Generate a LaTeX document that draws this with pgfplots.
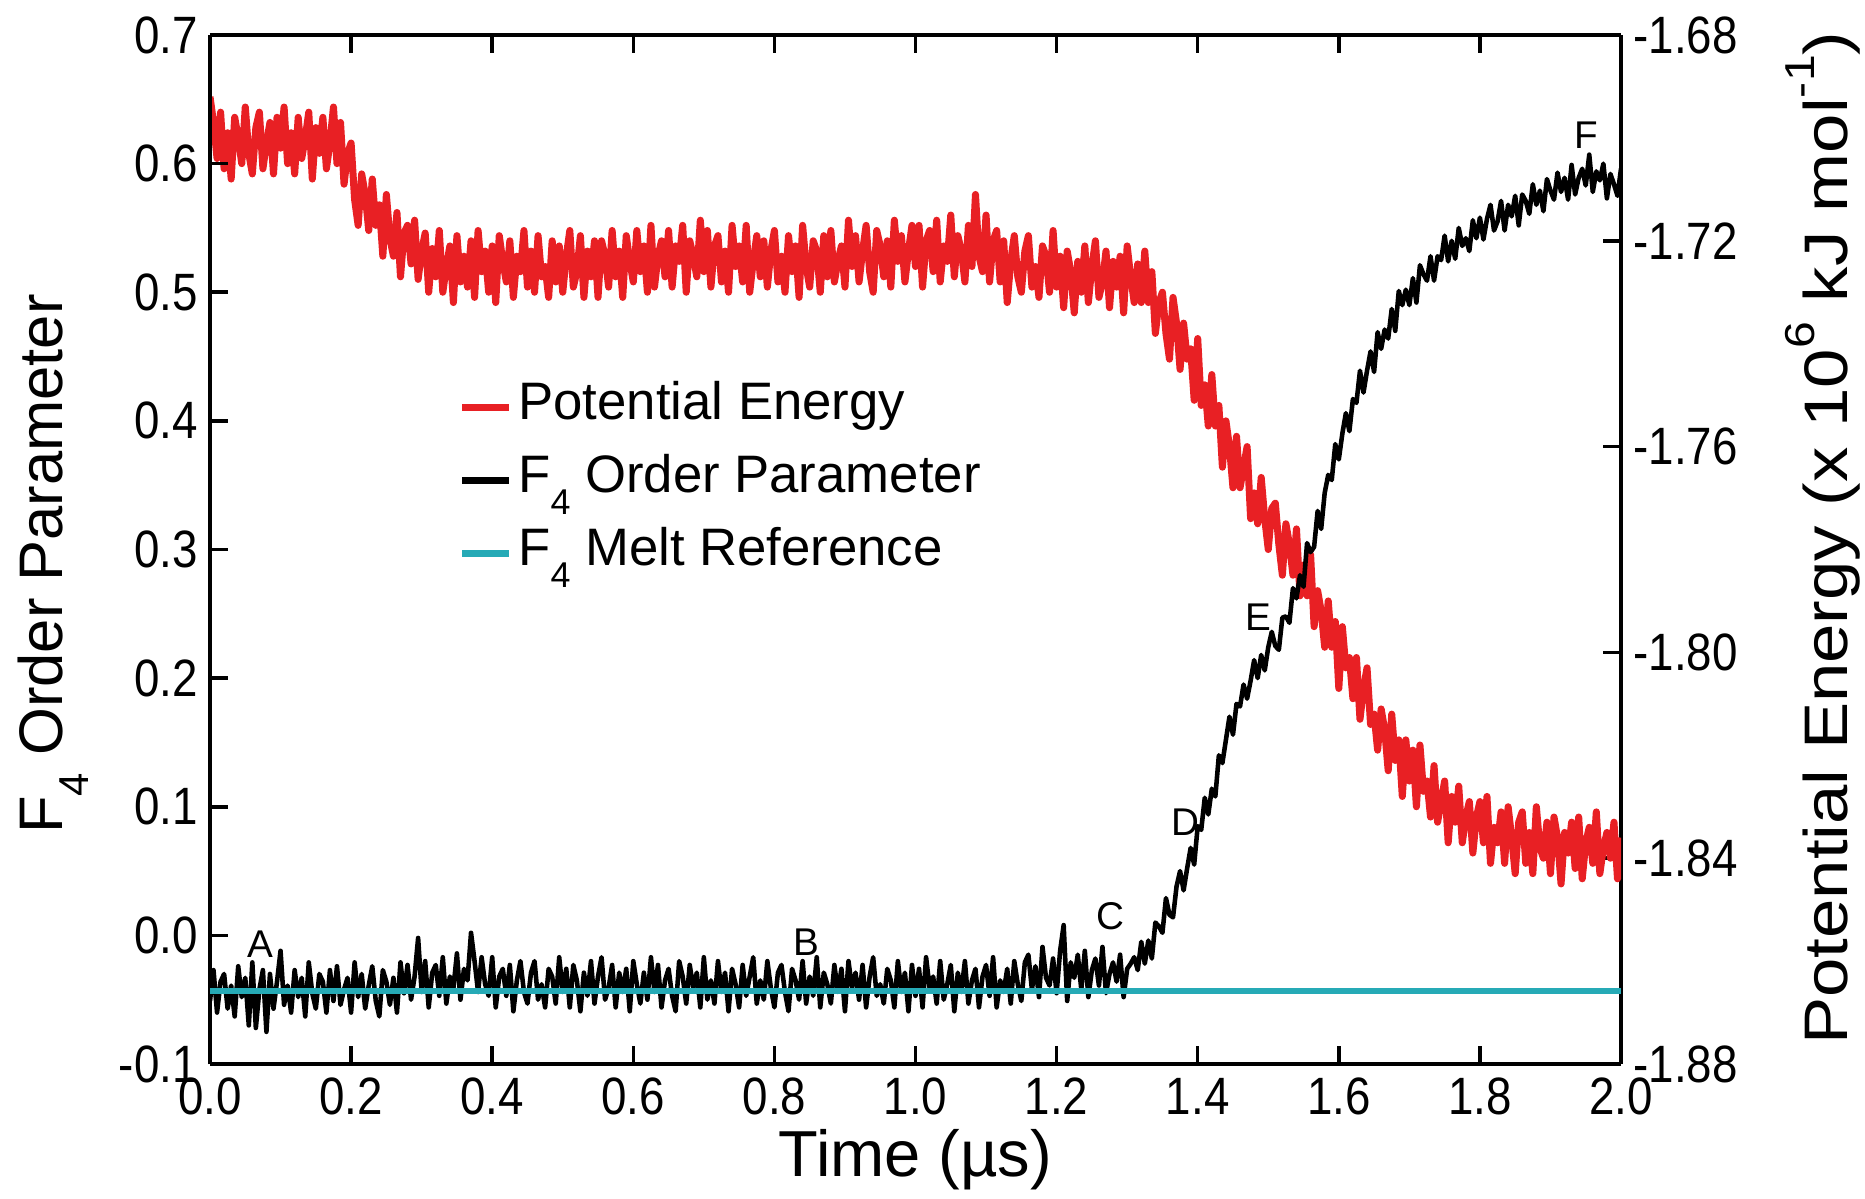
\documentclass[border=0pt]{standalone}
\usepackage{graphicx}
\usepackage{fontspec}
\setmainfont{Liberation Sans}
\usepackage{pgfplots}
\pgfplotsset{compat=1.18}

\definecolor{pered}{RGB}{232,32,36}
\definecolor{meltcyan}{RGB}{38,170,182}
\newcommand{\ticksize}{\fontsize{13}{13}\selectfont}
\newcommand{\labsize}{\fontsize{17.5}{18}\selectfont}
\newcommand{\fsub}[1]{\raisebox{-0.42em}{\scalebox{0.68}{#1}}}
\newcommand{\fsup}[1]{\raisebox{0.55em}{\scalebox{0.68}{#1}}}

\begin{document}
\begin{tikzpicture}
\path[use as bounding box] (-21mm,-13.4mm) rectangle (165.5mm,106.4mm);

% potential energy, right-hand scale
\begin{axis}[
  at={(0,0)}, anchor=south west, scale only axis,
  width=141.1mm, height=102.9mm,
  xmin=0, xmax=2, ymin=-1.88, ymax=-1.68,
  axis x line=none, axis y line*=right,
  ytick={-1.88,-1.84,-1.80,-1.76,-1.72,-1.68},
  yticklabels={-1.88,-1.84,-1.80,-1.76,-1.72,-1.68},
  tick align=inside, major tick length=1.8mm,
  axis line style={line width=1pt},
  tick style={line width=1pt, black},
  yticklabel style={font=\ticksize, yscale=1.15},
  every axis y label/.style={at={(axis description cs:1.143,0.511)}, rotate=90, anchor=center, font=\labsize},
  ylabel={\scalebox{1.15}[1]{Potential Energy (x 10\fsup{6} kJ mol\fsup{-1})}},
]
\addplot[pered, line width=2pt, line join=round] coordinates {
(0.000,-1.692)(0.005,-1.697)(0.010,-1.704)(0.015,-1.695)(0.020,-1.706)(0.025,-1.699)(0.030,-1.708)(0.035,-1.696)(0.040,-1.700)(0.045,-1.705)
(0.050,-1.694)(0.055,-1.703)(0.060,-1.707)(0.065,-1.698)(0.070,-1.695)(0.075,-1.706)(0.080,-1.701)(0.085,-1.697)(0.090,-1.707)(0.095,-1.696)
(0.100,-1.702)(0.105,-1.694)(0.110,-1.705)(0.115,-1.699)(0.120,-1.707)(0.125,-1.696)(0.130,-1.704)(0.135,-1.700)(0.140,-1.695)(0.145,-1.708)
(0.150,-1.698)(0.155,-1.703)(0.160,-1.696)(0.165,-1.706)(0.170,-1.701)(0.175,-1.694)(0.180,-1.705)(0.185,-1.697)(0.190,-1.709)(0.195,-1.703)
(0.200,-1.701)(0.205,-1.712)(0.210,-1.717)(0.215,-1.707)(0.220,-1.711)(0.225,-1.718)(0.230,-1.708)(0.235,-1.717)(0.240,-1.713)(0.245,-1.723)
(0.250,-1.711)(0.255,-1.7195)(0.260,-1.723)(0.265,-1.7145)(0.270,-1.727)(0.275,-1.7185)(0.280,-1.717)(0.285,-1.7245)(0.290,-1.716)(0.295,-1.7275)
(0.300,-1.722)(0.305,-1.7185)(0.310,-1.730)(0.315,-1.7215)(0.320,-1.727)(0.325,-1.718)(0.330,-1.730)(0.335,-1.725)(0.340,-1.721)(0.345,-1.732)
(0.350,-1.719)(0.355,-1.728)(0.360,-1.723)(0.365,-1.729)(0.370,-1.720)(0.375,-1.731)(0.380,-1.718)(0.385,-1.726)(0.390,-1.722)(0.395,-1.730)
(0.400,-1.721)(0.405,-1.732)(0.410,-1.719)(0.415,-1.724)(0.420,-1.728)(0.425,-1.720)(0.430,-1.731)(0.435,-1.723)(0.440,-1.726)(0.445,-1.718)
(0.450,-1.729)(0.455,-1.722)(0.460,-1.730)(0.465,-1.719)(0.470,-1.727)(0.475,-1.725)(0.480,-1.731)(0.485,-1.720)(0.490,-1.728)(0.495,-1.721)
(0.500,-1.730)(0.505,-1.723)(0.510,-1.718)(0.515,-1.729)(0.520,-1.726)(0.525,-1.719)(0.530,-1.731)(0.535,-1.722)(0.540,-1.727)(0.545,-1.720)
(0.550,-1.731)(0.555,-1.720)(0.560,-1.723)(0.565,-1.729)(0.570,-1.718)(0.575,-1.727)(0.580,-1.722)(0.585,-1.731)(0.590,-1.719)(0.595,-1.724)
(0.600,-1.728)(0.605,-1.718)(0.610,-1.726)(0.615,-1.721)(0.620,-1.730)(0.625,-1.717)(0.630,-1.729)(0.635,-1.723)(0.640,-1.720)(0.645,-1.727)
(0.650,-1.718)(0.655,-1.729)(0.660,-1.721)(0.665,-1.724)(0.670,-1.717)(0.675,-1.730)(0.680,-1.720)(0.685,-1.723)(0.690,-1.727)(0.695,-1.716)
(0.700,-1.726)(0.705,-1.718)(0.710,-1.729)(0.715,-1.721)(0.720,-1.719)(0.725,-1.728)(0.730,-1.722)(0.735,-1.730)(0.740,-1.717)(0.745,-1.725)
(0.750,-1.721)(0.755,-1.728)(0.760,-1.717)(0.765,-1.730)(0.770,-1.724)(0.775,-1.719)(0.780,-1.727)(0.785,-1.720)(0.790,-1.729)(0.795,-1.722)
(0.800,-1.718)(0.805,-1.728)(0.810,-1.723)(0.815,-1.730)(0.820,-1.719)(0.825,-1.726)(0.830,-1.721)(0.835,-1.731)(0.840,-1.717)(0.845,-1.725)
(0.850,-1.729)(0.855,-1.720)(0.860,-1.722)(0.865,-1.730)(0.870,-1.719)(0.875,-1.727)(0.880,-1.718)(0.885,-1.728)(0.890,-1.724)(0.895,-1.721)
(0.900,-1.729)(0.905,-1.716)(0.910,-1.725)(0.915,-1.719)(0.920,-1.728)(0.925,-1.722)(0.930,-1.717)(0.935,-1.726)(0.940,-1.730)(0.945,-1.718)
(0.950,-1.721)(0.955,-1.727)(0.960,-1.720)(0.965,-1.729)(0.970,-1.716)(0.975,-1.724)(0.980,-1.719)(0.985,-1.728)(0.990,-1.722)(0.995,-1.717)
(1.000,-1.725)(1.005,-1.717)(1.010,-1.729)(1.015,-1.720)(1.020,-1.718)(1.025,-1.726)(1.030,-1.716)(1.035,-1.728)(1.040,-1.721)(1.045,-1.724)
(1.050,-1.715)(1.055,-1.727)(1.060,-1.719)(1.065,-1.722)(1.070,-1.728)(1.075,-1.717)(1.080,-1.725)(1.085,-1.711)(1.090,-1.723)(1.095,-1.726)
(1.100,-1.715)(1.105,-1.728)(1.110,-1.720)(1.115,-1.718)(1.120,-1.728)(1.125,-1.720)(1.130,-1.732)(1.135,-1.724)(1.140,-1.719)(1.145,-1.727)
(1.150,-1.730)(1.155,-1.722)(1.160,-1.719)(1.165,-1.729)(1.170,-1.725)(1.175,-1.731)(1.180,-1.721)(1.185,-1.723)(1.190,-1.730)(1.195,-1.718)
(1.200,-1.729)(1.205,-1.723)(1.210,-1.733)(1.215,-1.722)(1.220,-1.726)(1.225,-1.734)(1.230,-1.724)(1.235,-1.730)(1.240,-1.721)(1.245,-1.732)
(1.250,-1.725)(1.255,-1.720)(1.260,-1.731)(1.265,-1.728)(1.270,-1.722)(1.275,-1.733)(1.280,-1.724)(1.285,-1.729)(1.290,-1.723)(1.295,-1.734)
(1.300,-1.721)(1.305,-1.727)(1.310,-1.732)(1.315,-1.7245)(1.320,-1.732)(1.325,-1.722)(1.330,-1.732)(1.335,-1.726)(1.340,-1.738)(1.345,-1.732)
(1.350,-1.730)(1.355,-1.738)(1.360,-1.743)(1.365,-1.731)(1.370,-1.736)(1.375,-1.745)(1.380,-1.736)(1.385,-1.743)(1.390,-1.741)(1.395,-1.751)
(1.400,-1.739)(1.405,-1.752)(1.410,-1.748)(1.415,-1.756)(1.420,-1.746)(1.425,-1.756)(1.430,-1.752)(1.435,-1.764)(1.440,-1.755)(1.445,-1.760)
(1.450,-1.768)(1.455,-1.758)(1.460,-1.768)(1.465,-1.764)(1.470,-1.760)(1.475,-1.774)(1.480,-1.769)(1.485,-1.775)(1.490,-1.766)(1.495,-1.774)
(1.500,-1.780)(1.505,-1.772)(1.510,-1.771)(1.515,-1.779)(1.520,-1.785)(1.525,-1.775)(1.530,-1.779)(1.535,-1.785)(1.540,-1.776)(1.545,-1.789)
(1.550,-1.783)(1.555,-1.789)(1.560,-1.781)(1.565,-1.795)(1.570,-1.788)(1.575,-1.792)(1.580,-1.799)(1.585,-1.790)(1.590,-1.799)(1.595,-1.794)
(1.600,-1.807)(1.605,-1.795)(1.610,-1.803)(1.615,-1.801)(1.620,-1.809)(1.625,-1.801)(1.630,-1.813)(1.635,-1.807)(1.640,-1.803)(1.645,-1.814)
(1.650,-1.812)(1.655,-1.819)(1.660,-1.811)(1.665,-1.815)(1.670,-1.823)(1.675,-1.812)(1.680,-1.821)(1.685,-1.817)(1.690,-1.828)(1.695,-1.817)
(1.700,-1.825)(1.705,-1.819)(1.710,-1.830)(1.715,-1.818)(1.720,-1.827)(1.725,-1.825)(1.730,-1.832)(1.735,-1.822)(1.740,-1.833)(1.745,-1.829)
(1.750,-1.825)(1.755,-1.837)(1.760,-1.828)(1.765,-1.833)(1.770,-1.826)(1.775,-1.837)(1.780,-1.832)(1.785,-1.829)(1.790,-1.839)(1.795,-1.832)
(1.800,-1.829)(1.805,-1.837)(1.810,-1.828)(1.815,-1.841)(1.820,-1.834)(1.825,-1.837)(1.830,-1.831)(1.835,-1.841)(1.840,-1.830)(1.845,-1.836)
(1.850,-1.843)(1.855,-1.833)(1.860,-1.831)(1.865,-1.841)(1.870,-1.835)(1.875,-1.843)(1.880,-1.830)(1.885,-1.838)(1.890,-1.840)(1.895,-1.833)
(1.900,-1.843)(1.905,-1.832)(1.910,-1.836)(1.915,-1.845)(1.920,-1.835)(1.925,-1.839)(1.930,-1.833)(1.935,-1.842)(1.940,-1.832)(1.945,-1.844)
(1.950,-1.837)(1.955,-1.834)(1.960,-1.841)(1.965,-1.831)(1.970,-1.843)(1.975,-1.838)(1.980,-1.835)(1.985,-1.840)(1.990,-1.833)(1.995,-1.844)
(2.000,-1.836)
};
\end{axis}

% F4 order parameter, left-hand scale
\begin{axis}[
  at={(0,0)}, anchor=south west, scale only axis,
  width=141.1mm, height=102.9mm,
  xmin=0, xmax=2, ymin=-0.1, ymax=0.7,
  axis y line*=left,
  xtick={0,0.2,0.4,0.6,0.8,1.0,1.2,1.4,1.6,1.8,2.0},
  xticklabels={0.0,0.2,0.4,0.6,0.8,1.0,1.2,1.4,1.6,1.8,2.0},
  ytick={-0.1,0,0.1,0.2,0.3,0.4,0.5,0.6,0.7},
  yticklabels={-0.1,0.0,0.1,0.2,0.3,0.4,0.5,0.6,0.7},
  xtick pos=both, xticklabel pos=lower,
  tick align=inside, major tick length=1.8mm,
  axis line style={line width=1pt},
  tick style={line width=1pt, black},
  ticklabel style={font=\ticksize, yscale=1.15},
  every axis x label/.style={at={(axis description cs:0.5,-0.093)}, anchor=center, font=\fontsize{18.5}{19}\selectfont},
  every axis y label/.style={at={(axis description cs:-0.111,0.486)}, rotate=90, anchor=center, font=\labsize},
  xlabel={Time (µs)},
  ylabel={F\fsub{4} Order Parameter},
  legend image code/.code={\draw[#1, line width=1.8pt] (0mm,0mm) -- (4.7mm,0mm);},
  legend cell align=left,
  legend style={at={(axis description cs:0.176,0.665)}, anchor=north west,
    draw=none, fill=none, inner sep=0pt, row sep=1.9mm,
    font=\fontsize{15}{15}\selectfont,
    nodes={inner xsep=0.6mm, inner ysep=0pt, text height=3.9mm, text depth=1.5mm}},
]
\addlegendimage{pered}
\addlegendentry{Potential Energy}
\addplot[black, line width=1.3pt, line join=round] coordinates {
(0.000,-0.051)(0.005,-0.027)(0.010,-0.060)(0.015,-0.036)(0.020,-0.030)(0.025,-0.057)(0.030,-0.039)(0.035,-0.063)(0.040,-0.024)(0.045,-0.048)
(0.050,-0.033)(0.055,-0.070)(0.060,-0.021)(0.065,-0.072)(0.070,-0.042)(0.075,-0.027)(0.080,-0.075)(0.085,-0.030)(0.090,-0.057)(0.095,-0.036)
(0.100,-0.012)(0.105,-0.054)(0.110,-0.039)(0.115,-0.060)(0.120,-0.027)(0.125,-0.048)(0.130,-0.033)(0.135,-0.063)(0.140,-0.021)(0.145,-0.045)
(0.150,-0.057)(0.155,-0.030)(0.160,-0.036)(0.165,-0.060)(0.170,-0.027)(0.175,-0.051)(0.180,-0.024)(0.185,-0.054)(0.190,-0.042)(0.195,-0.033)
(0.200,-0.060)(0.205,-0.021)(0.210,-0.048)(0.215,-0.030)(0.220,-0.057)(0.225,-0.039)(0.230,-0.024)(0.235,-0.051)(0.240,-0.063)(0.245,-0.027)
(0.250,-0.036)(0.255,-0.054)(0.260,-0.033)(0.265,-0.060)(0.270,-0.021)(0.275,-0.045)(0.280,-0.023)(0.285,-0.050)(0.290,-0.032)(0.295,-0.002)
(0.300,-0.044)(0.305,-0.020)(0.310,-0.056)(0.315,-0.029)(0.320,-0.023)(0.325,-0.047)(0.330,-0.017)(0.335,-0.053)(0.340,-0.032)(0.345,-0.041)
(0.350,-0.014)(0.355,-0.050)(0.360,-0.026)(0.365,-0.035)(0.370,0.002)(0.375,-0.020)(0.380,-0.044)(0.385,-0.017)(0.390,-0.038)(0.395,-0.047)
(0.400,-0.017)(0.405,-0.056)(0.410,-0.032)(0.415,-0.026)(0.420,-0.047)(0.425,-0.023)(0.430,-0.059)(0.435,-0.035)(0.440,-0.020)(0.445,-0.044)
(0.450,-0.053)(0.455,-0.029)(0.460,-0.020)(0.465,-0.050)(0.470,-0.038)(0.475,-0.056)(0.480,-0.026)(0.485,-0.032)(0.490,-0.053)(0.495,-0.017)
(0.500,-0.044)(0.505,-0.026)(0.510,-0.056)(0.515,-0.023)(0.520,-0.035)(0.525,-0.059)(0.530,-0.029)(0.535,-0.047)(0.540,-0.020)(0.545,-0.053)
(0.550,-0.032)(0.555,-0.017)(0.560,-0.050)(0.565,-0.041)(0.570,-0.023)(0.575,-0.056)(0.580,-0.029)(0.585,-0.044)(0.590,-0.026)(0.595,-0.059)
(0.600,-0.020)(0.605,-0.038)(0.610,-0.053)(0.615,-0.029)(0.620,-0.050)(0.625,-0.017)(0.630,-0.044)(0.635,-0.023)(0.640,-0.056)(0.645,-0.035)
(0.650,-0.026)(0.655,-0.047)(0.660,-0.059)(0.665,-0.020)(0.670,-0.032)(0.675,-0.053)(0.680,-0.023)(0.685,-0.041)(0.690,-0.029)(0.695,-0.056)
(0.700,-0.017)(0.705,-0.050)(0.710,-0.035)(0.715,-0.053)(0.720,-0.020)(0.725,-0.044)(0.730,-0.029)(0.735,-0.059)(0.740,-0.026)(0.745,-0.038)
(0.750,-0.056)(0.755,-0.023)(0.760,-0.047)(0.765,-0.032)(0.770,-0.017)(0.775,-0.053)(0.780,-0.035)(0.785,-0.050)(0.790,-0.020)(0.795,-0.041)
(0.800,-0.056)(0.805,-0.029)(0.810,-0.023)(0.815,-0.044)(0.820,-0.059)(0.825,-0.026)(0.830,-0.035)(0.835,-0.050)(0.840,-0.020)(0.845,-0.053)
(0.850,-0.032)(0.855,-0.047)(0.860,-0.017)(0.865,-0.056)(0.870,-0.029)(0.875,-0.038)(0.880,-0.053)(0.885,-0.023)(0.890,-0.044)(0.895,-0.026)
(0.900,-0.059)(0.905,-0.020)(0.910,-0.041)(0.915,-0.029)(0.920,-0.050)(0.925,-0.023)(0.930,-0.056)(0.935,-0.032)(0.940,-0.017)(0.945,-0.047)
(0.950,-0.038)(0.955,-0.053)(0.960,-0.026)(0.965,-0.035)(0.970,-0.056)(0.975,-0.020)(0.980,-0.044)(0.985,-0.029)(0.990,-0.059)(0.995,-0.023)
(1.000,-0.047)(1.005,-0.026)(1.010,-0.056)(1.015,-0.017)(1.020,-0.041)(1.025,-0.032)(1.030,-0.053)(1.035,-0.020)(1.040,-0.050)(1.045,-0.038)
(1.050,-0.023)(1.055,-0.059)(1.060,-0.029)(1.065,-0.044)(1.070,-0.020)(1.075,-0.053)(1.080,-0.035)(1.085,-0.026)(1.090,-0.056)(1.095,-0.032)
(1.100,-0.023)(1.105,-0.047)(1.110,-0.017)(1.115,-0.056)(1.120,-0.035)(1.125,-0.044)(1.130,-0.026)(1.135,-0.053)(1.140,-0.020)(1.145,-0.038)
(1.150,-0.051)(1.155,-0.021)(1.160,-0.015)(1.165,-0.042)(1.170,-0.024)(1.175,-0.048)(1.180,-0.009)(1.185,-0.033)(1.190,-0.039)(1.195,-0.018)
(1.200,-0.045)(1.205,-0.012)(1.210,0.008)(1.215,-0.051)(1.220,-0.021)(1.225,-0.033)(1.230,-0.015)(1.235,-0.042)(1.240,-0.012)(1.245,-0.048)
(1.250,-0.027)(1.255,-0.018)(1.260,-0.039)(1.265,-0.009)(1.270,-0.045)(1.275,-0.030)(1.280,-0.021)(1.285,-0.036)(1.290,-0.015)(1.295,-0.048)
(1.300,-0.026)(1.305,-0.022)(1.310,-0.017)(1.315,-0.027)(1.320,-0.005)(1.325,-0.022)(1.330,-0.004)(1.335,-0.018)(1.340,0.010)(1.345,0.007)
(1.350,0.002)(1.355,0.029)(1.360,0.016)(1.365,0.014)(1.370,0.038)(1.375,0.050)(1.380,0.035)(1.385,0.052)(1.390,0.068)(1.395,0.055)
(1.400,0.085)(1.405,0.082)(1.410,0.107)(1.415,0.094)(1.420,0.114)(1.425,0.108)(1.430,0.140)(1.435,0.134)(1.440,0.152)(1.445,0.170)
(1.450,0.156)(1.455,0.180)(1.460,0.178)(1.465,0.195)(1.470,0.184)(1.475,0.198)(1.480,0.214)(1.485,0.200)(1.490,0.218)(1.495,0.206)
(1.500,0.224)(1.505,0.236)(1.510,0.225)(1.515,0.222)(1.520,0.247)(1.525,0.248)(1.530,0.243)(1.535,0.270)(1.540,0.262)(1.545,0.280)
(1.550,0.271)(1.555,0.305)(1.560,0.298)(1.565,0.302)(1.570,0.330)(1.575,0.316)(1.580,0.344)(1.585,0.358)(1.590,0.354)(1.595,0.382)
(1.600,0.370)(1.605,0.390)(1.610,0.406)(1.615,0.392)(1.620,0.417)(1.625,0.414)(1.630,0.439)(1.635,0.422)(1.640,0.439)(1.645,0.454)
(1.650,0.438)(1.655,0.469)(1.660,0.456)(1.665,0.471)(1.670,0.464)(1.675,0.487)(1.680,0.470)(1.685,0.501)(1.690,0.490)(1.695,0.502)
(1.700,0.490)(1.705,0.511)(1.710,0.492)(1.715,0.521)(1.720,0.514)(1.725,0.509)(1.730,0.528)(1.735,0.509)(1.740,0.528)(1.745,0.525)
(1.750,0.544)(1.755,0.524)(1.760,0.540)(1.765,0.526)(1.770,0.550)(1.775,0.536)(1.780,0.542)(1.785,0.532)(1.790,0.556)(1.795,0.542)
(1.800,0.558)(1.805,0.541)(1.810,0.557)(1.815,0.568)(1.820,0.548)(1.825,0.555)(1.830,0.571)(1.835,0.548)(1.840,0.568)(1.845,0.559)
(1.850,0.575)(1.855,0.552)(1.860,0.576)(1.865,0.571)(1.870,0.561)(1.875,0.584)(1.880,0.568)(1.885,0.579)(1.890,0.563)(1.895,0.588)
(1.900,0.579)(1.905,0.572)(1.910,0.593)(1.915,0.578)(1.920,0.589)(1.925,0.572)(1.930,0.599)(1.935,0.576)(1.940,0.589)(1.945,0.596)
(1.950,0.583)(1.955,0.607)(1.960,0.578)(1.965,0.594)(1.970,0.587)(1.975,0.600)(1.980,0.573)(1.985,0.592)(1.990,0.584)(1.995,0.575)
(2.000,0.596)
};
\addlegendentry{F\fsub{4} Order Parameter}
\addplot[meltcyan, line width=1.8pt] coordinates {(0,-0.043) (2,-0.043)};
\addlegendentry{F\fsub{4} Melt Reference}

% stage markers along the trajectory
\begin{scope}[every node/.style={font=\fontsize{11}{11}\selectfont, inner sep=0pt}]
\node at (axis cs:0.071,-0.007) {A};
\node at (axis cs:0.846,-0.005) {B};
\node at (axis cs:1.277,0.015) {C};
\node at (axis cs:1.382,0.088) {D};
\node at (axis cs:1.486,0.247) {E};
\node at (axis cs:1.951,0.622) {F};
\end{scope}
\end{axis}
\end{tikzpicture}
\end{document}
